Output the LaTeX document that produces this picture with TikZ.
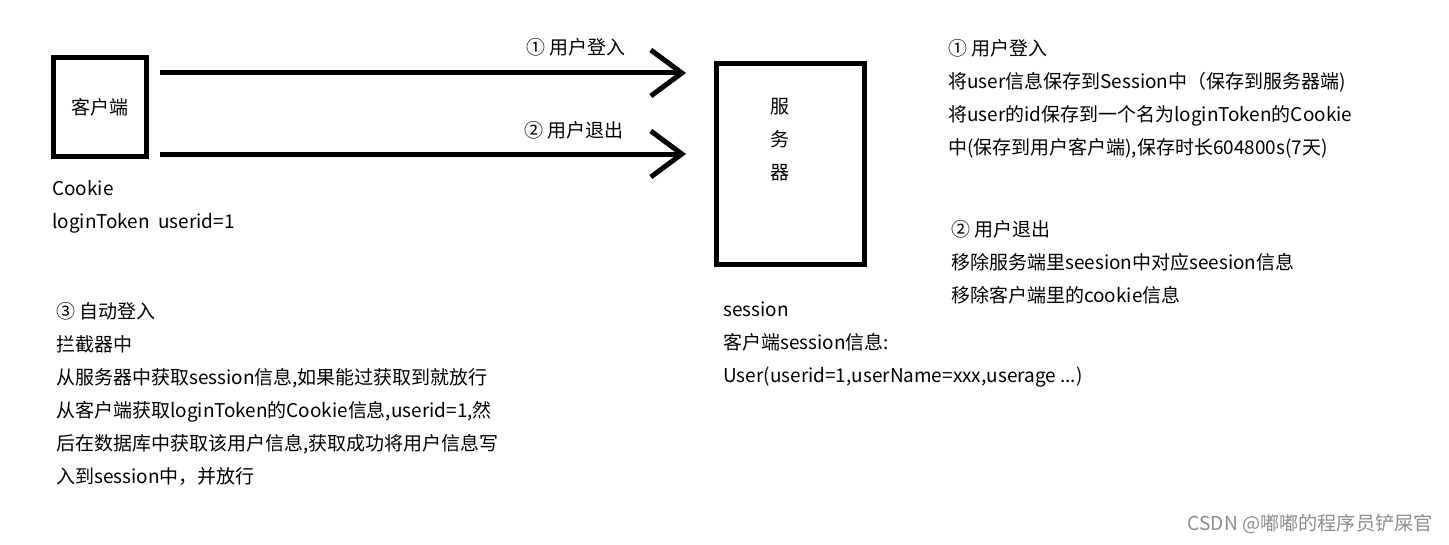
\documentclass[tikz,border=0pt]{standalone}
\usepackage{fontspec}
\setmainfont{Noto Sans CJK SC}
\usepackage{tikz}
\usetikzlibrary{arrows.meta,positioning,calc}

\begin{document}
\begin{tikzpicture}[>=latex,x=0.02cm,y=-0.02cm]
\tikzstyle{block}=[draw, line width=0.1cm, rectangle, inner sep=0pt]
\tikzstyle{note}=[anchor=north west, align=left, inner sep=0pt, font=\fontsize{10.8}{18.78}\selectfont]
\tikzstyle{flow}=[line width=0.1cm, -{Straight Barb[length=0.62cm,width=0.92cm]}, shorten >=0.56cm]

\useasboundingbox (0,0) rectangle (1449,544);

% client block
\node[block, minimum width=1.86cm, minimum height=1.98cm, font=\fontsize{10.8}{18.78}\selectfont] (client) at (100,107) {客户端};

% server block
\node[block, minimum width=2.96cm, minimum height=4.02cm] (server) at (790.5,164) {};
\node[align=center, inner sep=0pt, font=\fontsize{10.8}{18.78}\selectfont] (srvtxt) at (780,140) {服\\务\\器};

% arrows
\draw[flow] ($(client.east)+(11.5,-34)$) -- ($(server.west)+(0,-91)$);
\draw[flow] ($(client.east)+(11.5,47)$) -- ($(server.west)+(0,-10)$);
\node[note, anchor=west] (login) at (526,47) {① 用户登入};
\node[note, anchor=west] (logout) at (524,130) {② 用户退出};

% cookie
\node[note] (cookie) at (52,172) {\strut Cookie\\loginToken\ \ userid=1};

% login / logout notes
\node[note] (loginnote) at (948,32) {\strut ① 用户登入\\
将user信息保存到Session中（保存到服务器端)\\
将user的id保存到一个名为loginToken的Cookie\\
中(保存到用户客户端),保存时长604800s(7天)};
\node[note] (logoutnote) at (951,213) {\strut ② 用户退出\\
移除服务端里seesion中对应seesion信息\\
移除客户端里的cookie信息};

% auto login
\node[note] (autologin) at (56,295) {\strut ③ 自动登入\\
拦截器中\\
从服务器中获取session信息,如果能过获取到就放行\\
从客户端获取loginToken的Cookie信息,userid=1,然\\
后在数据库中获取该用户信息,获取成功将用户信息写\\
入到session中，并放行};

% session
\node[note] (session) at (723,293) {\strut session\\
客户端session信息:\\
User(userid=1,userName=xxx,userage ...)};

\node[anchor=east, inner sep=0pt, text=black!45, font=\fontsize{10.9}{13}\selectfont] (mark) at (1433,524) {CSDN @嘟嘟的程序员铲屎官};

\end{tikzpicture}
\end{document}
